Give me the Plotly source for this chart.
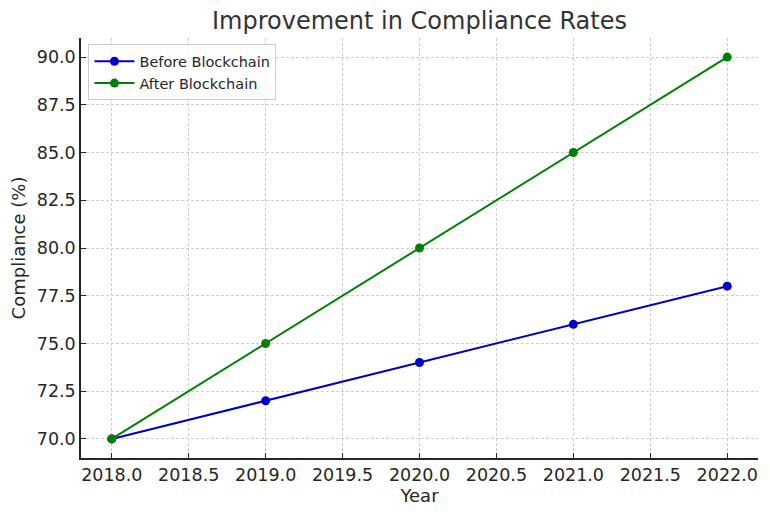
import plotly.graph_objects as go

years = [2018, 2019, 2020, 2021, 2022]
before = [70, 72, 74, 76, 78]
after = [70, 75, 80, 85, 90]
y_ticks = [70.0, 72.5, 75.0, 77.5, 80.0, 82.5, 85.0, 87.5, 90.0]
x_ticks = [2018.0, 2018.5, 2019.0, 2019.5, 2020.0, 2020.5, 2021.0, 2021.5, 2022.0]

fig = go.Figure()
fig.add_trace(go.Scatter(x=years, y=before, mode="lines+markers", name="Before Blockchain",
                         line=dict(color="#0000CD", width=2), marker=dict(color="#0000CD", size=9)))
fig.add_trace(go.Scatter(x=years, y=after, mode="lines+markers", name="After Blockchain",
                         line=dict(color="#008000", width=2), marker=dict(color="#008000", size=9)))

axis_common = dict(
    showline=True, linecolor="#262626", linewidth=1.5, mirror=False,
    ticks="inside", ticklen=5, tickcolor="#262626", tickwidth=1,
    showgrid=True, gridcolor="#cfcfcf", griddash="3px,2px", gridwidth=1,
    zeroline=False, tickfont=dict(size=17.5, color="#262626"), automargin=False,
)

fig.update_layout(
    width=770, height=517,
    margin=dict(l=81, r=12, t=38, b=59),
    paper_bgcolor="white", plot_bgcolor="white",
    font=dict(family="DejaVu Sans", color="#262626"),
    title=dict(text="Improvement in Compliance Rates", x=0.5, xanchor="center",
               xref="paper", y=1 - 21 / 517, yanchor="middle",
               font=dict(size=24, color="#333333")),
    xaxis=dict(range=[2017.8, 2022.2], tickvals=x_ticks,
               ticktext=[f"{v:.1f}" for v in x_ticks],
               title=dict(text="Year", font=dict(size=18), standoff=6), **axis_common),
    yaxis=dict(range=[69.0, 91.0], tickvals=y_ticks,
               ticktext=[f"{v:.1f}" for v in y_ticks],
               title=dict(text="Compliance (%)", font=dict(size=18), standoff=6), **axis_common),
    legend=dict(x=0.011, y=0.985, xanchor="left", yanchor="top",
                bgcolor="rgba(255,255,255,0.8)", bordercolor="#cccccc", borderwidth=1,
                font=dict(size=14.5, color="#262626"), tracegroupgap=0, itemwidth=40),
    showlegend=True,
)

fig.write_html("out.html", config={"displayModeBar": False},
               post_script="document.body.style.margin='0';document.body.style.overflow='hidden';")
